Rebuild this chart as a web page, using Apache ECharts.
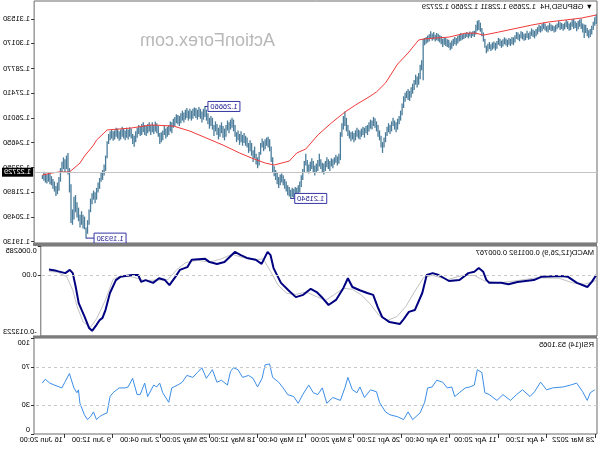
<!DOCTYPE html>
<html><head><meta charset="utf-8">
<script src="https://cdn.jsdelivr.net/npm/echarts@6/dist/echarts.min.js"></script>
<style>html,body{margin:0;padding:0;background:#fff}#c{width:600px;height:450px;transform:scaleX(-1);}</style>
</head><body><div id="c"></div><script>
// ---- data (time order: 28 Mar 2022 00:00 .. 21 Jun 2022, H4 bars) ----
const barLow = [
1.3128,1.3118,1.3095,1.3070,1.3055,1.3048, 1.3060,1.3078,1.3050,1.3080,1.3100,1.3112, 1.3098,1.3088,1.3105,1.3100,1.3112,1.3095, 1.3090,1.3100,1.3110,1.3098,1.3090,1.3100, 1.3095,1.3108,1.3098,1.3085,1.3080,1.3090,
1.3088,1.3095,1.3080,1.3085,1.3092,1.3100, 1.3088,1.3080,1.3085,1.3070,1.3060,1.3048, 1.3055,1.3062,1.3045,1.3040,1.3050,1.3038, 1.3035,1.3042,1.3048,1.3032,1.3040,1.3045, 1.3025,1.3010,1.3015,1.3005,1.3012,1.3000,
1.3008,1.3015,1.3002,1.2995,1.3005,1.3012, 1.2990,1.2980,1.2992,1.2985,1.2978,1.2988, 1.2975,1.2965,1.2995,1.3030,1.3060,1.3085, 1.3095,1.3090,1.3070,1.3055,1.3060,1.3050, 1.3058,1.3048,1.3055,1.3050,1.3045,1.3040,
1.3035,1.3030,1.3020,1.3008,1.3015,1.3005, 1.2990,1.2982,1.2995,1.3000,1.3005,1.3012, 1.3000,1.3015,1.3025,1.3032,1.3038,1.3030, 1.3042,1.3035,1.3045,1.3030,1.3025,1.3018, 1.3010,1.2815,1.2870,1.2820,1.2790,1.2775,
1.2790,1.2760,1.2740,1.2718,1.2700,1.2705, 1.2715,1.2695,1.2660,1.2620,1.2590,1.2570, 1.2540,1.2525,1.2540,1.2560,1.2530,1.2515, 1.2525,1.2505,1.2470,1.2440,1.2410,1.2440, 1.2480,1.2500,1.2530,1.2550,1.2560,1.2540,
1.2545,1.2530,1.2510,1.2520,1.2495,1.2510, 1.2500,1.2485,1.2490,1.2500,1.2480,1.2470, 1.2485,1.2475,1.2490,1.2505,1.2530,1.2560, 1.2540,1.2500,1.2370,1.2350,1.2340,1.2355, 1.2345,1.2325,1.2335,1.2310,1.2320,1.2330,
1.2310,1.2290,1.2300,1.2320,1.2335,1.2310, 1.2300,1.2285,1.2300,1.2320,1.2310,1.2295, 1.2305,1.2340,1.2300,1.2260,1.2220,1.2190, 1.2175,1.2165,1.2170,1.2160,1.2165,1.2154, 1.2168,1.2175,1.2195,1.2210,1.2230,1.2245,
1.2230,1.2215,1.2235,1.2260,1.2280,1.2300, 1.2360,1.2420,1.2440,1.2450,1.2430,1.2420, 1.2440,1.2400,1.2340,1.2325,1.2345,1.2380, 1.2360,1.2395,1.2420,1.2410,1.2440,1.2450, 1.2465,1.2450,1.2470,1.2455,1.2480,1.2470,
1.2500,1.2530,1.2550,1.2540,1.2520,1.2535, 1.2500,1.2480,1.2495,1.2520,1.2500,1.2485, 1.2510,1.2530,1.2505,1.2540,1.2560,1.2545, 1.2570,1.2590,1.2610,1.2595,1.2580,1.2600, 1.2610,1.2595,1.2605,1.2615,1.2600,1.2590,
1.2600,1.2590,1.2605,1.2595,1.2580,1.2590, 1.2575,1.2560,1.2570,1.2575,1.2560,1.2550, 1.2520,1.2530,1.2510,1.2500,1.2490,1.2510, 1.2480,1.2470,1.2460,1.2500,1.2520,1.2530, 1.2515,1.2525,1.2510,1.2530,1.2520,1.2505,
1.2510,1.2525,1.2510,1.2505,1.2515,1.2495, 1.2470,1.2445,1.2460,1.2490,1.2500,1.2485, 1.2495,1.2480,1.2490,1.2500,1.2485,1.2478, 1.2490,1.2500,1.2485,1.2478,1.2490,1.2480, 1.2460,1.2380,1.2310,1.2285,1.2260,1.2250,
1.2210,1.2190,1.2150,1.2130,1.2150,1.2125, 1.2080,1.2010,1.1960,1.1933,1.1985,1.1990, 1.2010,1.1995,1.2030,1.2050,1.2080,1.2040, 1.2010,1.2020,1.2190,1.2290,1.2320,1.2300, 1.2320,1.2300,1.2250,1.2200,1.2180,1.2170,
1.2195,1.2210,1.2230,1.2235,1.2250,1.2240, 1.2245,1.2255,1.2265
];
const barHigh = [
1.3176,1.3160,1.3135,1.3112,1.3095,1.3088, 1.3100,1.3118,1.3120,1.3125,1.3152,1.3148, 1.3140,1.3130,1.3138,1.3150,1.3148,1.3132, 1.3125,1.3138,1.3145,1.3130,1.3122,1.3128, 1.3132,1.3140,1.3125,1.3118,1.3110,1.3115,
1.3120,1.3128,1.3115,1.3110,1.3125,1.3130, 1.3122,1.3112,1.3118,1.3105,1.3095,1.3085, 1.3090,1.3098,1.3080,1.3072,1.3085,1.3070, 1.3068,1.3078,1.3082,1.3065,1.3075,1.3078, 1.3060,1.3048,1.3050,1.3040,1.3045,1.3035,
1.3042,1.3048,1.3038,1.3030,1.3040,1.3045, 1.3028,1.3018,1.3025,1.3020,1.3010,1.3022, 1.3012,1.3002,1.3040,1.3075,1.3100,1.3130, 1.3145,1.3140,1.3118,1.3085,1.3082,1.3075, 1.3080,1.3072,1.3078,1.3070,1.3068,1.3065,
1.3072,1.3062,1.3055,1.3045,1.3050,1.3040, 1.3030,1.3020,1.3035,1.3038,1.3045,1.3048, 1.3040,1.3055,1.3060,1.3068,1.3072,1.3062, 1.3078,1.3070,1.3082,1.3065,1.3058,1.3050, 1.3045,1.3040,1.2920,1.2895,1.2850,1.2830,
1.2840,1.2810,1.2790,1.2770,1.2750,1.2760, 1.2750,1.2740,1.2720,1.2680,1.2640,1.2610, 1.2595,1.2575,1.2585,1.2600,1.2580,1.2560, 1.2570,1.2550,1.2520,1.2490,1.2465,1.2500, 1.2530,1.2560,1.2580,1.2598,1.2605,1.2585,
1.2590,1.2575,1.2560,1.2555,1.2545,1.2550, 1.2540,1.2530,1.2535,1.2545,1.2530,1.2515, 1.2525,1.2520,1.2530,1.2560,1.2600,1.2635, 1.2610,1.2570,1.2520,1.2400,1.2385,1.2395, 1.2380,1.2370,1.2375,1.2360,1.2370,1.2380,
1.2360,1.2345,1.2350,1.2370,1.2400,1.2365, 1.2345,1.2335,1.2360,1.2375,1.2355,1.2340, 1.2365,1.2400,1.2360,1.2315,1.2280,1.2245, 1.2225,1.2210,1.2215,1.2205,1.2210,1.2200, 1.2215,1.2225,1.2245,1.2260,1.2280,1.2290,
1.2285,1.2270,1.2295,1.2310,1.2330,1.2380, 1.2440,1.2480,1.2495,1.2490,1.2480,1.2470, 1.2485,1.2460,1.2410,1.2380,1.2400,1.2440, 1.2420,1.2460,1.2475,1.2460,1.2490,1.2500, 1.2515,1.2505,1.2525,1.2510,1.2530,1.2520,
1.2560,1.2590,1.2600,1.2590,1.2575,1.2585, 1.2560,1.2540,1.2555,1.2575,1.2560,1.2545, 1.2565,1.2580,1.2560,1.2600,1.2610,1.2600, 1.2625,1.2645,1.2666,1.2650,1.2635,1.2650, 1.2660,1.2645,1.2655,1.2658,1.2650,1.2640,
1.2650,1.2640,1.2655,1.2645,1.2630,1.2640, 1.2625,1.2610,1.2615,1.2620,1.2605,1.2595, 1.2575,1.2580,1.2560,1.2550,1.2540,1.2555, 1.2530,1.2520,1.2515,1.2555,1.2570,1.2580, 1.2560,1.2575,1.2560,1.2575,1.2565,1.2555,
1.2560,1.2575,1.2565,1.2550,1.2560,1.2545, 1.2525,1.2500,1.2510,1.2540,1.2548,1.2535, 1.2545,1.2530,1.2540,1.2550,1.2535,1.2525, 1.2540,1.2545,1.2530,1.2525,1.2535,1.2525, 1.2510,1.2470,1.2390,1.2340,1.2310,1.2295,
1.2265,1.2240,1.2210,1.2185,1.2195,1.2180, 1.2150,1.2090,1.2030,1.1990,1.2050,1.2060, 1.2080,1.2060,1.2100,1.2130,1.2170,1.2160, 1.2090,1.2230,1.2320,1.2404,1.2390,1.2370, 1.2380,1.2355,1.2320,1.2270,1.2240,1.2220,
1.2245,1.2260,1.2275,1.2290,1.2295,1.2285, 1.2290,1.2300,1.2281
];
const maPts = [[0,1.3175],[10,1.3158],[32,1.3136],[43,1.3119],[65,1.3080],[75,1.3063],[80,1.3074],[87,1.3074],[98,1.3052],[109,1.3046],[115,1.3041],[118,1.3036],[125,1.2964],[132,1.2902],[140,1.2797],[146,1.2747],[151,1.2719],[160,1.2674],[167,1.2635],[176,1.2574],[185,1.2507],[193,1.2429],[199,1.2407],[204,1.2362],[214,1.2340],[220,1.2351],[229,1.2379],[237,1.2407],[248,1.2451],[259,1.2490],[270,1.2529],[281,1.2557],[296,1.2563],[309,1.2546],[325,1.2535],[332,1.2479],[334,1.2451],[340,1.2390],[343,1.2351],[350,1.2301],[357,1.2301],[362,1.2295],[368,1.2284]];
const macdPts = [[0,0.0000],[3,-0.0015],[6,-0.0026],[13,-0.0017],[19,-0.0004],[24,-0.0002],[37,-0.0004],[42,-0.0011],[53,-0.0015],[59,-0.0020],[64,-0.0017],[72,-0.0017],[74,-0.0010],[76,0.0007],[79,0.0015],[82,0.0007],[86,0.0004],[92,-0.0011],[99,-0.0013],[106,0.0000],[110,0.0004],[114,0.0000],[117,-0.0039],[122,-0.0076],[126,-0.0080],[130,-0.0098],[132,-0.0106],[139,-0.0102],[144,-0.0091],[147,-0.0069],[150,-0.0043],[154,-0.0039],[159,-0.0033],[164,-0.0026],[167,-0.0007],[170,-0.0028],[175,-0.0054],[180,-0.0065],[184,-0.0050],[188,-0.0037],[192,-0.0030],[197,-0.0043],[202,-0.0048],[207,-0.0033],[212,-0.0017],[217,0.0015],[219,0.0043],[221,0.0050],[225,0.0024],[229,0.0033],[235,0.0037],[239,0.0043],[243,0.0050],[250,0.0028],[255,0.0024],[260,0.0028],[263,0.0035],[272,0.0033],[275,0.0017],[280,0.0011],[283,-0.0004],[287,-0.0022],[290,-0.0011],[294,-0.0007],[298,-0.0017],[303,-0.0011],[306,-0.0015],[308,0.0000],[312,0.0000],[320,-0.0004],[323,-0.0011],[327,-0.0039],[330,-0.0076],[332,-0.0093],[334,-0.0098],[336,-0.0108],[339,-0.0121],[341,-0.0115],[344,-0.0091],[348,-0.0061],[350,-0.0026],[352,0.0004],[354,0.0011],[357,0.0004],[363,0.0009],[368,0.001192]];
const signalPts = [[0,-0.0012],[8,-0.0020],[16,-0.0017],[25,-0.0007],[40,-0.0006],[55,-0.0013],[66,-0.0017],[75,-0.0013],[82,-0.0001],[90,-0.0001],[100,-0.0010],[110,-0.0001],[116,-0.0005],[122,-0.0035],[128,-0.0068],[134,-0.0090],[140,-0.0098],[146,-0.0088],[152,-0.0063],[158,-0.0043],[164,-0.0031],[170,-0.0029],[176,-0.0042],[182,-0.0055],[188,-0.0047],[195,-0.0037],[202,-0.0042],[208,-0.0040],[214,-0.0022],[219,0.0008],[224,0.0035],[230,0.0033],[238,0.0038],[245,0.0045],[252,0.0035],[260,0.0028],[268,0.0032],[276,0.0027],[282,0.0012],[288,-0.0010],[295,-0.0011],[304,-0.0012],[312,-0.0004],[320,-0.0002],[325,-0.0010],[330,-0.0054],[336,-0.0095],[340,-0.0113],[345,-0.0102],[349,-0.0069],[352,-0.0033],[356,-0.0004],[362,0.0006],[368,0.000767]];
const rsiPts = [[1,46],[4,43],[6,35],[9,44],[13,53],[17,51],[22,49],[29,48],[33,46],[37,54],[41,44],[44,39],[49,46],[53,41],[57,35],[62,41],[66,35],[71,41],[74,43],[76,64],[79,67],[81,51],[84,49],[87,48],[91,43],[94,39],[96,49],[99,48],[102,54],[106,56],[109,49],[112,48],[114,33],[117,22],[122,15],[125,23],[128,15],[132,18],[137,20],[140,23],[144,33],[146,44],[150,46],[154,38],[157,49],[159,43],[162,46],[165,59],[167,48],[170,35],[175,38],[179,32],[182,48],[185,41],[188,43],[191,51],[195,41],[198,32],[201,39],[205,41],[208,48],[211,54],[215,59],[217,73],[220,72],[222,58],[225,49],[228,58],[231,61],[235,59],[238,67],[241,69],[243,65],[245,51],[249,56],[252,54],[255,67],[259,58],[262,69],[265,64],[268,59],[272,61],[275,54],[278,51],[282,48],[284,33],[288,43],[290,53],[292,49],[294,51],[298,39],[300,53],[303,41],[305,41],[308,58],[311,49],[313,48],[317,48],[321,43],[323,39],[325,22],[328,20],[330,18],[332,15],[334,23],[336,18],[338,15],[340,20],[343,32],[344,46],[345,43],[347,48],[350,63],[353,54],[355,48],[360,51],[363,53],[366,57],[368,53.1065]];
const priceTicks = [1.1913,1.2049,1.2189,1.2325,1.2465,1.2601,1.2741,1.2877,1.3017,1.3153];
const priceTickLabels = ['1.19130','1.20490','1.21890','1.23250','1.24650','1.26010','1.27410','1.28770','1.30170','1.31530'];
const macdTicks = [-0.013223,0,0.006285];
const macdTickLabels = ['-0.013223','0.00','0.006285'];
const rsiTicks = [0,30,70,100];
const rsiTickLabels = ['0','30','70','100'];
const xTickIdx = [0,33,65,97,129,161,193,225,257,289,321,353];
const xTickLabels = ['28 Mar 2022','4 Apr 12:00','11 Apr 20:00','19 Apr 04:00','26 Apr 12:00','3 May 20:00','11 May 04:00','18 May 12:00','25 May 20:00','2 Jun 04:00','9 Jun 12:00','16 Jun 20:00'];
const lastPrice = 1.22729;
const annIdx = [260,203,339];
const annPrice = [1.2666,1.2154,1.1933];
const annText = ['1.26660','1.21540','1.19330'];
const headerText = '\u25BC GBPUSD,H4  1.22659 1.22811 1.22650 1.22729';
const macdHeader = 'MACD(12,26,9) 0.001192 0.000767';
const rsiHeader = 'RSI(14) 53.1065';

// ---- chart ----
const NSLOT = 374;
const cats = Array.from({length: NSLOT}, (_, i) => String(i));
const FONT = 'Liberation Sans, Arial, sans-serif';
const chart = echarts.init(document.getElementById('c'), null, {renderer: 'canvas'});
const annGap = [3, 4, 8];
const labelOf = (ticks, labels) => v => { let k = 0, d = Infinity; ticks.forEach((t, j) => { const dd = Math.abs(t - v); if (dd < d) { d = dd; k = j; } }); return labels[k]; };
const frame = {show: true, borderColor: '#6a6a6a', borderWidth: 1, backgroundColor: '#fff'};
const baseX = gi => ({gridIndex: gi, type: 'category', data: cats, boundaryGap: true, axisLine: {show: false}, axisTick: {show: false}, axisLabel: {show: false}, splitLine: {show: false}});
const xBottom = Object.assign(baseX(2), {
  axisTick: {show: true, interval: i => xTickIdx.includes(i), alignWithLabel: true, length: 4, lineStyle: {color: '#333'}},
  axisLabel: {show: true, interval: i => xTickIdx.includes(i), formatter: (v, i) => xTickLabels[xTickIdx.indexOf(Number(v))] || '', align: 'left', margin: 2, fontSize: 7.5, color: '#000', fontFamily: FONT, padding: [0, 0, 0, 2]}
});
const yBase = (gi, min, max, ticks, labels, rich) => ({
  gridIndex: gi, type: 'value', position: 'right', min, max, scale: true,
  axisLine: {show: false}, splitLine: {show: false},
  axisTick: {show: true, customValues: ticks, length: 3, lineStyle: {color: '#333'}},
  axisLabel: {show: true, customValues: ticks, formatter: rich || labelOf(ticks, labels), fontSize: 7.5, color: '#000', fontFamily: FONT, margin: 4,
    rich: {t: {padding: [9, 0, 0, 0], fontSize: 7.5, fontFamily: FONT, color: '#000'}, b: {padding: [0, 0, 9, 0], fontSize: 7.5, fontFamily: FONT, color: '#000'}}}
});
const edgeFmt = (ticks, labels) => v => {
  const s = labelOf(ticks, labels)(v);
  if (Math.abs(v - ticks[ticks.length - 1]) < 1e-9) return '{t|' + s + '}';
  if (Math.abs(v - ticks[0]) < 1e-9) return '{b|' + s + '}';
  return s;
};

const option = {
  animation: false,
  textStyle: {fontFamily: FONT},
  grid: [
    Object.assign({left: 3, width: 563, top: 1, height: 242}, frame),
    Object.assign({left: 3, width: 563, top: 246, height: 90}, frame),
    Object.assign({left: 3, width: 563, top: 338, height: 96}, frame)
  ],
  xAxis: [baseX(0), baseX(1), xBottom],
  yAxis: [
    yBase(0, 1.19058, 1.32532, priceTicks, priceTickLabels),
    yBase(1, macdTicks[0], macdTicks[2], macdTicks, macdTickLabels, edgeFmt(macdTicks, macdTickLabels)),
    yBase(2, 0, 100, rsiTicks, rsiTickLabels, edgeFmt(rsiTicks, rsiTickLabels))
  ],
  graphic: [
    {type: 'rect', silent: true, z: 100, shape: {x: 3, y: 243, width: 564, height: 3}, style: {fill: '#7c7c7c'}},
    {type: 'rect', silent: true, z: 100, shape: {x: 3, y: 335.5, width: 564, height: 2.5}, style: {fill: '#7c7c7c'}},
    {type: 'text', x: 325, y: 32, silent: true, style: {text: 'ActionForex.com', font: '18px ' + FONT, fill: '#b8b8b8'}},
    {type: 'text', x: 7, y: 3, silent: true, style: {text: headerText, font: '7.5px ' + FONT, fill: '#000'}},
    {type: 'text', x: 6, y: 249, silent: true, style: {text: macdHeader, font: '7.5px ' + FONT, fill: '#000'}},
    {type: 'text', x: 6, y: 341, silent: true, style: {text: rsiHeader, font: '7.5px ' + FONT, fill: '#000'}}
  ],
  series: [
    {
      type: 'custom', name: 'GBPUSD', xAxisIndex: 0, yAxisIndex: 0, silent: true,
      data: barLow.map((l, i) => [i, l, barHigh[i]]),
      encode: {x: 0, y: [1, 2]},
      renderItem: (params, api) => {
        const a = api.coord([api.value(0), api.value(1)]);
        const b = api.coord([api.value(0), api.value(2)]);
        return {type: 'line', shape: {x1: a[0], y1: a[1] + 0.5, x2: b[0], y2: b[1] - 0.5}, style: {stroke: '#4b7d9b', lineWidth: 1.3}};
      }
    },
    {
      type: 'line', name: 'MA', xAxisIndex: 0, yAxisIndex: 0, data: maPts, showSymbol: false, silent: true,
      lineStyle: {color: '#f03a3a', width: 1}, z: 3,
      markLine: {silent: true, symbol: 'none', data: [{yAxis: lastPrice}], lineStyle: {color: '#c4c4c4', type: 'solid', width: 1},
        label: {show: true, position: 'end', formatter: () => lastPrice.toFixed(5), backgroundColor: '#000', color: '#fff', fontSize: 7.5, fontFamily: FONT, padding: [1, 2, 0, 2], distance: 1}}
    },
    {
      type: 'custom', name: 'labels', xAxisIndex: 0, yAxisIndex: 0, silent: true, z: 5,
      data: annIdx.map((i, k) => [i, annPrice[k]]),
      encode: {x: 0, y: 1},
      renderItem: (params, api) => {
        const k = params.dataIndex;
        const p = api.coord([api.value(0), api.value(1)]);
        const w = 32, h = 10, right = p[0] - annGap[k];
        return {type: 'group', children: [
          {type: 'line', shape: {x1: p[0], y1: p[1], x2: right, y2: p[1]}, style: {stroke: '#2b2b9b', lineWidth: 1}},
          {type: 'rect', shape: {x: right - w, y: p[1] - h / 2, width: w, height: h}, style: {fill: '#fff', stroke: '#3535a5', lineWidth: 1}},
          {type: 'text', x: right - w / 2, y: p[1] + 0.5, style: {text: annText[k], fill: '#1a1a90', fontSize: 7.5, fontFamily: FONT, align: 'center', verticalAlign: 'middle'}}
        ]};
      }
    },
    {
      type: 'line', name: 'Signal', xAxisIndex: 1, yAxisIndex: 1, data: signalPts, showSymbol: false, silent: true,
      lineStyle: {color: '#c2c2c2', width: 1},
      markLine: {silent: true, symbol: 'none', data: [{yAxis: 0}], lineStyle: {color: '#c8c8c8', type: [3, 3], width: 1}, label: {show: false}}
    },
    {
      type: 'line', name: 'MACD', xAxisIndex: 1, yAxisIndex: 1, data: macdPts, showSymbol: false, silent: true,
      lineStyle: {color: '#000080', width: 2}
    },
    {
      type: 'line', name: 'RSI', xAxisIndex: 2, yAxisIndex: 2, data: rsiPts, showSymbol: false, silent: true,
      lineStyle: {color: '#3b8ee8', width: 1},
      markLine: {silent: true, symbol: 'none', data: [{yAxis: 30}, {yAxis: 70}], lineStyle: {color: '#c8c8c8', type: [3, 3], width: 1}, label: {show: false}}
    }
  ]
};
chart.setOption(option);
</script></body></html>
